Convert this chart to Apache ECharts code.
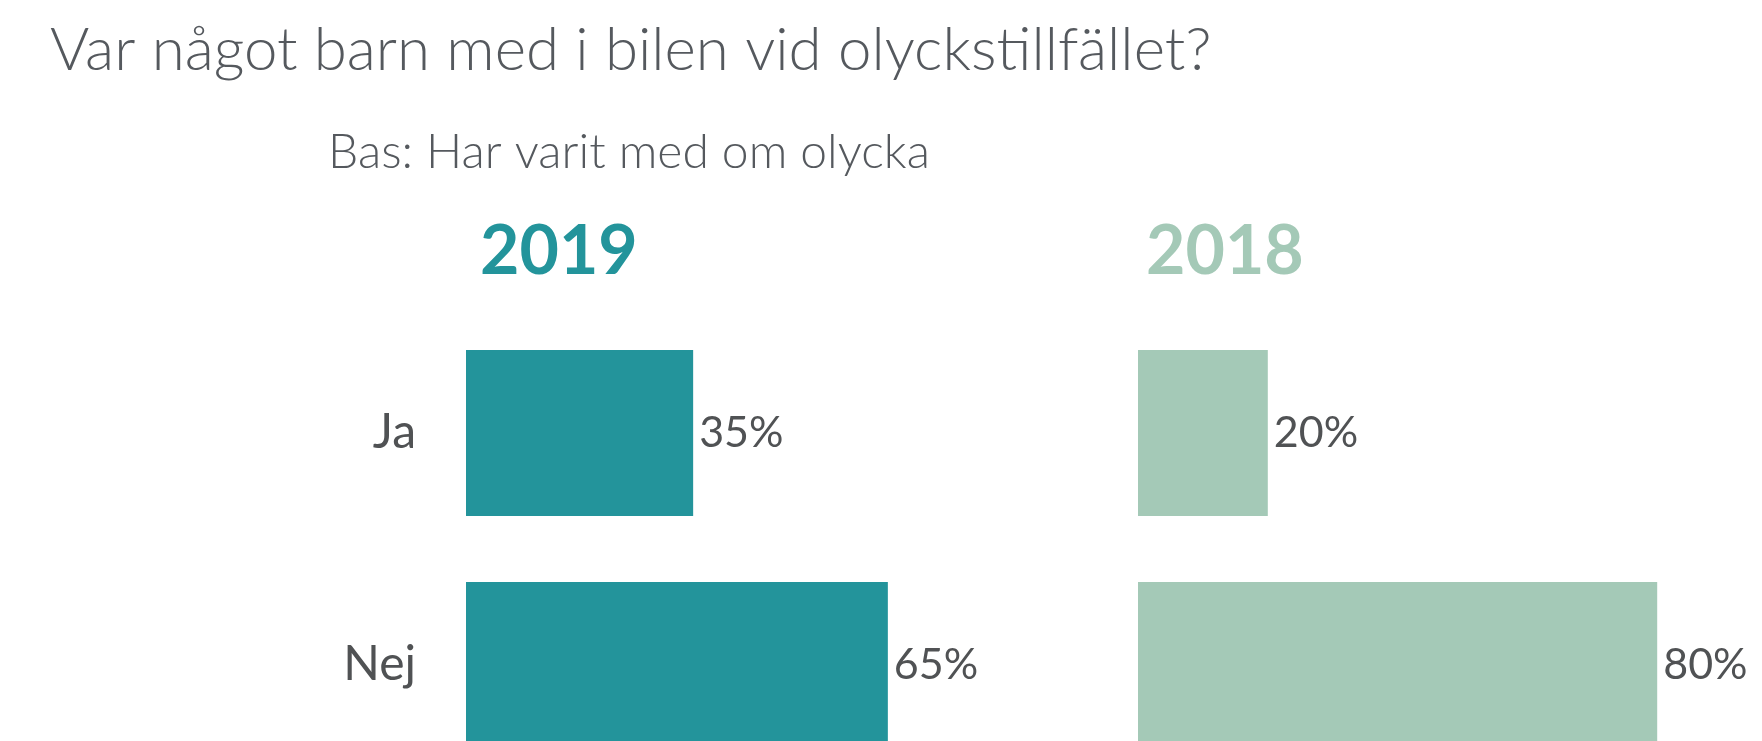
<!DOCTYPE html>
<html>
<head>
<meta charset="utf-8">
<script src="https://cdn.jsdelivr.net/npm/echarts@6/dist/echarts.min.js"></script>
<style>
  html, body { margin: 0; padding: 0; background: #ffffff; }
  #chart { width: 1762px; height: 741px; }
</style>
</head>
<body>
<div id="chart"></div>
<script>
// Survey answers, percent of respondents
const categories = ['Ja', 'Nej'];
const values2019 = [35, 65];
const values2018 = [20, 80];
const years = ['2019', '2018'];
const titleText = 'Var något barn med i bilen vid olyckstillfället?';
const subtitleText = 'Bas: Har varit med om olycka';

const TEAL = '#23949b';
const MINT = '#a4c9b7';
const TEXT = '#55595e';
const LABEL = '#505254';
const FONT = 'Lato, "Noto Sans", sans-serif';

const chart = echarts.init(document.getElementById('chart'), null, { renderer: 'canvas' });

function barSeries(idx, data, color) {
  return {
    type: 'bar',
    xAxisIndex: idx,
    yAxisIndex: idx,
    data: data,
    barWidth: 166,
    itemStyle: { color: color },
    label: {
      show: true,
      position: 'right',
      distance: 6,
      formatter: '{c}%',
      color: LABEL,
      fontFamily: FONT,
      fontSize: 43
    },
    emphasis: { disabled: true },
    animation: false
  };
}

function valueAxis(idx) {
  return {
    type: 'value',
    gridIndex: idx,
    min: 0,
    max: 100,
    show: false
  };
}

function categoryAxis(idx, showLabels) {
  return {
    type: 'category',
    gridIndex: idx,
    data: categories,
    inverse: true,
    axisLine: { show: false },
    axisTick: { show: false },
    splitLine: { show: false },
    axisLabel: {
      show: showLabels,
      margin: 50,
      color: LABEL,
      fontFamily: FONT,
      fontSize: 48
    }
  };
}

chart.setOption({
  backgroundColor: '#ffffff',
  title: [
    {
      text: titleText,
      left: 50, top: 21, padding: 0,
      textStyle: { color: TEXT, fontFamily: FONT, fontWeight: 300, fontSize: 60 }
    },
    {
      text: subtitleText,
      left: 328, top: 129, padding: 0,
      textStyle: { color: TEXT, fontFamily: FONT, fontWeight: 300, fontSize: 48 }
    },
    {
      text: years[0],
      left: 480, top: 218, padding: 0,
      textStyle: { color: TEAL, fontFamily: FONT, fontWeight: 'bold', fontSize: 68 }
    },
    {
      text: years[1],
      left: 1146, top: 218, padding: 0,
      textStyle: { color: MINT, fontFamily: FONT, fontWeight: 'bold', fontSize: 68 }
    }
  ],
  // plot areas run past the bottom/right edge of the canvas, so no outer-bounds clamping
  grid: [
    { left: 466, width: 649, top: 317, height: 464, outerBoundsMode: 'none', containLabel: false },
    { left: 1138, width: 649, top: 317, height: 464, outerBoundsMode: 'none', containLabel: false }
  ],
  xAxis: [valueAxis(0), valueAxis(1)],
  yAxis: [categoryAxis(0, true), categoryAxis(1, false)],
  series: [
    barSeries(0, values2019, TEAL),
    barSeries(1, values2018, MINT)
  ]
});
</script>
</body>
</html>
